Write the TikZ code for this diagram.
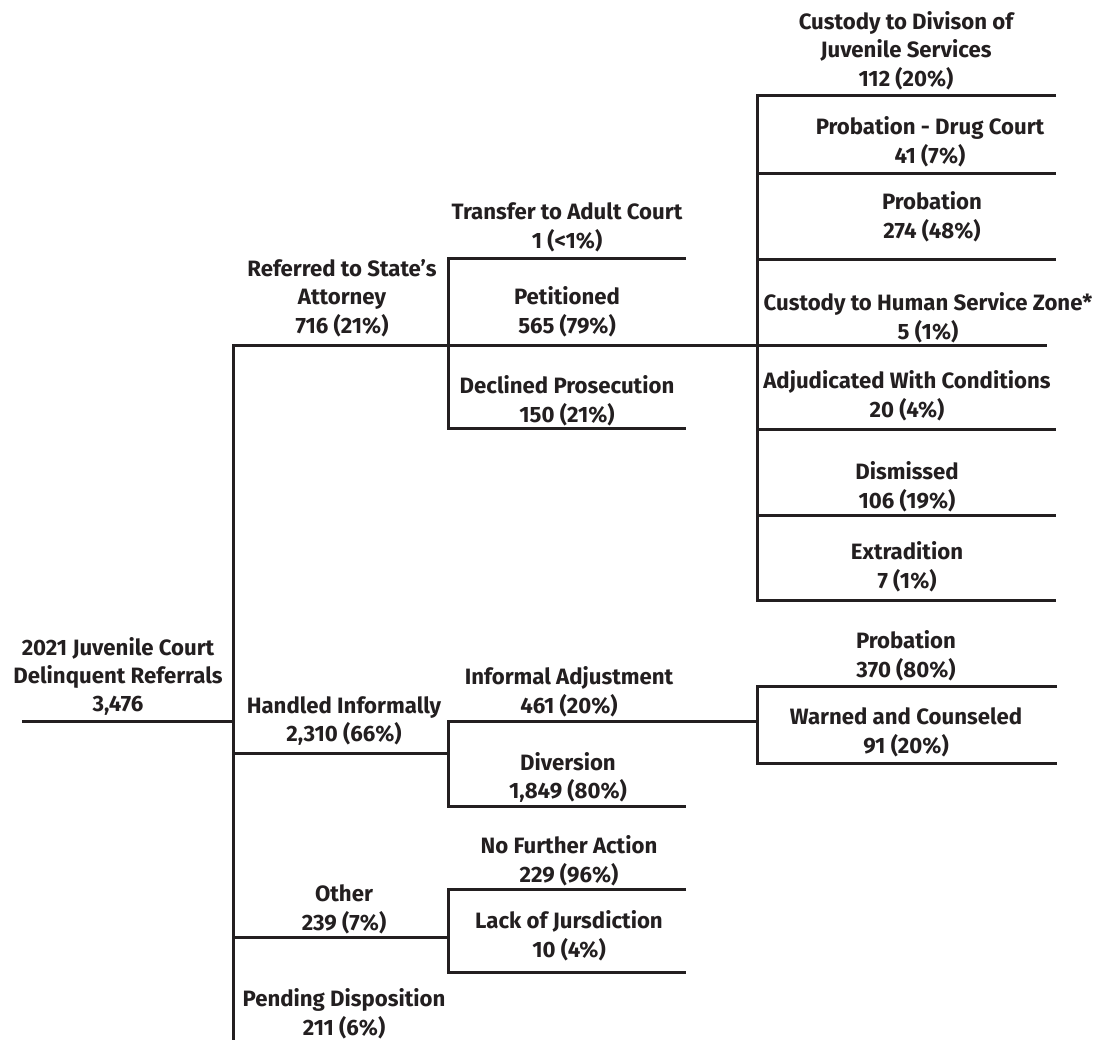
\documentclass[tikz,border=0pt]{standalone}
\usepackage{fontspec}
\usetikzlibrary{positioning}
\newfontfamily\lblfam{Fira Sans}
\definecolor{treeink}{HTML}{231F20}

\begin{document}
\begin{tikzpicture}[x=1bp,y=-1bp,
  treeline/.style={treeink,line width=3bp},
  lbl/.style={align=center,inner sep=0pt,anchor=south,text=treeink,
    font=\lblfam\bfseries\fontsize{22.2bp}{28.3bp}\selectfont}]
  \useasboundingbox (0,0) rectangle (1103,1040);

  % trunk
  \coordinate (root) at (22,721);
  \coordinate (trunk) at (233,721);
  \coordinate (trunktop) at (233,345);
  \coordinate (trunkend) at (233,1040);
  \draw[treeline] (root) -- (trunk);

  % referred to state's attorney
  \coordinate (satop) at (448,258);
  \coordinate (sabot) at (448,428);
  \coordinate (taend) at (686,258);
  \coordinate (dpend) at (686,428);
  \coordinate (ptend) at (1047,345);
  \draw[treeline] (trunkend) -- (trunktop) -- (ptend);
  \draw[treeline] (taend) -- (satop) -- (sabot) -- (dpend);

  % petitioned
  \coordinate (pvtop) at (757,95);
  \coordinate (pvbot) at (757,600);
  \foreach \n/\y in {1/95,2/173,3/259,5/429,6/515,7/600} {
    \coordinate (pd\n) at (1056,\y);
  }
  \draw[treeline] (pd1) -- (pvtop) -- (pvbot) -- (pd7);
  \foreach \n in {2,3,5,6} {
    \draw[treeline] (pvtop |- pd\n) -- (pd\n);
  }

  % handled informally
  \coordinate (hi) at (448,753);
  \coordinate (hitop) at (448,721);
  \coordinate (hibot) at (448,806);
  \coordinate (iaend) at (757,721);
  \coordinate (dvend) at (686,806);
  \draw[treeline] (trunk |- hi) -- (hi);
  \draw[treeline] (iaend) -- (hitop) -- (hibot) -- (dvend);
  \coordinate (iatop) at (757,686);
  \coordinate (iabot) at (757,763);
  \coordinate (ipend) at (1057,686);
  \coordinate (wcend) at (1057,763);
  \draw[treeline] (ipend) -- (iatop) -- (iabot) -- (wcend);

  % other
  \coordinate (ot) at (448,937);
  \coordinate (ottop) at (448,889);
  \coordinate (otbot) at (448,972);
  \coordinate (nfend) at (686,889);
  \coordinate (ljend) at (686,972);
  \draw[treeline] (trunk |- ot) -- (ot);
  \draw[treeline] (nfend) -- (ottop) -- (otbot) -- (ljend);

  % labels
  \node[lbl] (rootlbl) at (118,716) {2021 Juvenile Court\\Delinquent Referrals\\3,476};
  \node[lbl] (salbl) at (342,337) {Referred to State’s\\Attorney\\716 (21\%)};
  \node[lbl] (hilbl) at (344,746) {Handled Informally\\2,310 (66\%)};
  \node[lbl] (otlbl) at (344,934) {Other\\239 (7\%)};
  \node[lbl] (pdlbl) at (344,1039) {Pending Disposition\\211 (6\%)};

  \node[lbl] (talbl) at (567,252) {Transfer to Adult Court\\1 (<1\%)};
  \node[lbl] (ptlbl) at (567,337) {Petitioned\\565 (79\%)};
  \node[lbl] (dplbl) at (567,426) {Declined Prosecution\\150 (21\%)};
  \node[lbl] (ialbl) at (569,717) {Informal Adjustment\\461 (20\%)};
  \node[lbl] (dvlbl) at (568,803) {Diversion\\1,849 (80\%)};
  \node[lbl] (nflbl) at (569,886) {No Further Action\\229 (96\%)};
  \node[lbl] (ljlbl) at (569,961) {Lack of Jursdiction\\10 (4\%)};

  \node[lbl] (cdlbl) at (906,90) {Custody to Divison of\\Juvenile Services\\112 (20\%)};
  \node[lbl] (dclbl) at (930,167) {Probation - Drug Court\\41 (7\%)};
  \node[lbl] (pblbl) at (932,242) {Probation\\274 (48\%)};
  \node[lbl] (hzlbl) at (928,343) {Custody to Human Service Zone*\\5 (1\%)};
  \node[lbl] (awlbl) at (907,421) {Adjudicated With Conditions\\20 (4\%)};
  \node[lbl] (dslbl) at (907,512) {Dismissed\\106 (19\%)};
  \node[lbl] (exlbl) at (907,592) {Extradition\\7 (1\%)};
  \node[lbl] (iplbl) at (906,681) {Probation\\370 (80\%)};
  \node[lbl] (wclbl) at (906,757) {Warned and Counseled\\91 (20\%)};
\end{tikzpicture}
\end{document}
